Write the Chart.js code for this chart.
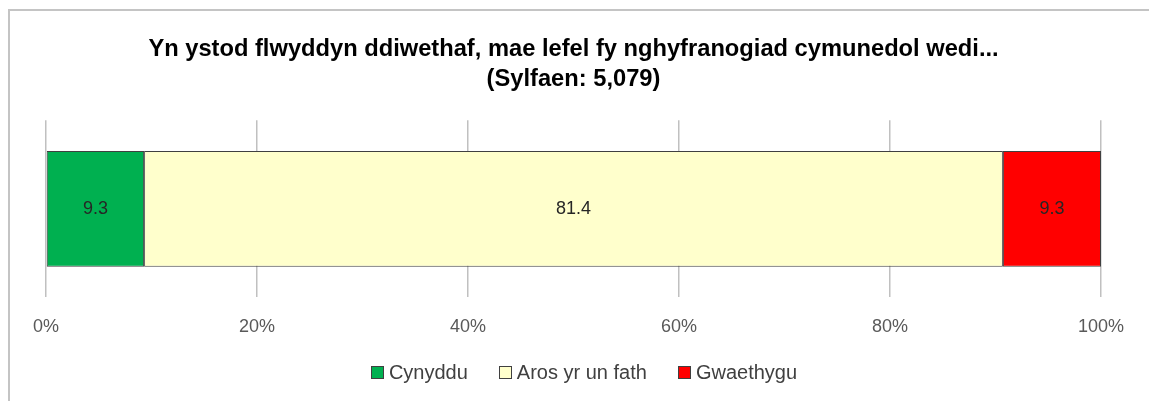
<!DOCTYPE html>
<html>
<head>
<meta charset="utf-8">
<script src="https://cdn.jsdelivr.net/npm/chart.js@4"></script>
<style>
  body { margin: 0; background: #fff; overflow: hidden; }
  .frame {
    position: absolute; left: 8px; top: 9px; width: 1139px; height: 390px;
    border-top: 2px solid #c4c4c4; border-left: 2px solid #c4c4c4; border-right: 1px solid #ececec;
  }
  #legend {
    position: absolute; left: 0; top: 361px; width: 1168px; height: 22px;
    display: flex; justify-content: center; align-items: center;
    font: 20px "Liberation Sans", sans-serif; color: #404040;
  }
  #legend span.item { display: flex; align-items: center; margin: 0 15.5px; }
  #legend span.box { width: 11px; height: 11px; border: 1px solid #404040; margin-right: 5px; }
</style>
</head>
<body>
<div class="frame"><canvas id="chart" width="1139" height="390"></canvas></div>
<div id="legend"></div>
<script>
const categories = [''];
const seriesNames = ['Cynyddu', 'Aros yr un fath', 'Gwaethygu'];
const cynyddu = [9.3];
const arosYrUnFath = [81.4];
const gwaethygu = [9.3];
const tickLabels = ['0%', '20%', '40%', '60%', '80%', '100%'];
const colours = ['#00b050', '#ffffcc', '#ff0000'];

// draws the value in the middle of each bar segment
const barLabels = {
    id: 'barLabels',
    afterDatasetsDraw(chart) {
        const ctx = chart.ctx;
        ctx.save();
        ctx.font = '18px "Liberation Sans", sans-serif';
        ctx.fillStyle = '#262626';
        ctx.textAlign = 'center';
        ctx.textBaseline = 'middle';
        chart.data.datasets.forEach((ds, i) => {
            chart.getDatasetMeta(i).data.forEach((bar, j) => {
                const c = bar.getCenterPoint();
                ctx.fillText(ds.data[j].toFixed(1), c.x, c.y);
            });
        });
        ctx.restore();
    }
};

const chart = new Chart(document.getElementById('chart'), {
    type: 'bar',
    data: {
        labels: categories,
        datasets: [
            { label: seriesNames[0], data: cynyddu, backgroundColor: colours[0] },
            { label: seriesNames[1], data: arosYrUnFath, backgroundColor: colours[1] },
            { label: seriesNames[2], data: gwaethygu, backgroundColor: colours[2] }
        ].map(d => Object.assign(d, { borderColor: '#404040', borderWidth: 1, borderSkipped: false, barPercentage: 0.653, categoryPercentage: 1 }))
    },
    options: {
        indexAxis: 'y',
        responsive: false,
        animation: false,
        layout: { padding: { left: 36, right: 48, top: 0, bottom: 44 } },
        scales: {
            x: {
                stacked: true,
                min: 0,
                max: 100,
                border: { display: false },
                grid: { color: '#c0c0c0', lineWidth: 1.5, drawTicks: false },
                ticks: {
                    stepSize: 20,
                    padding: 19,
                    color: '#595959',
                    font: { size: 18, family: '"Liberation Sans", sans-serif' },
                    callback: (v, i) => tickLabels[i]
                }
            },
            y: { stacked: true, display: false }
        },
        plugins: {
            title: {
                display: true,
                text: ['Yn ystod flwyddyn ddiwethaf, mae lefel fy nghyfranogiad cymunedol wedi...', '(Sylfaen: 5,079)'],
                color: '#000',
                font: { size: 23.7, weight: 'bold', family: '"Liberation Sans", sans-serif', lineHeight: 1.27 },
                padding: { top: 23, bottom: 26 }
            },
            legend: { display: false },
            tooltip: { enabled: false }
        }
    },
    plugins: [barLabels]
});

// html legend built from the chart's own legend items
const legendEl = document.getElementById('legend');
Chart.defaults.plugins.legend.labels.generateLabels(chart).forEach(item => {
    const el = document.createElement('span');
    el.className = 'item';
    const box = document.createElement('span');
    box.className = 'box';
    box.style.background = item.fillStyle;
    el.appendChild(box);
    el.appendChild(document.createTextNode(item.text));
    legendEl.appendChild(el);
});
</script>
</body>
</html>
